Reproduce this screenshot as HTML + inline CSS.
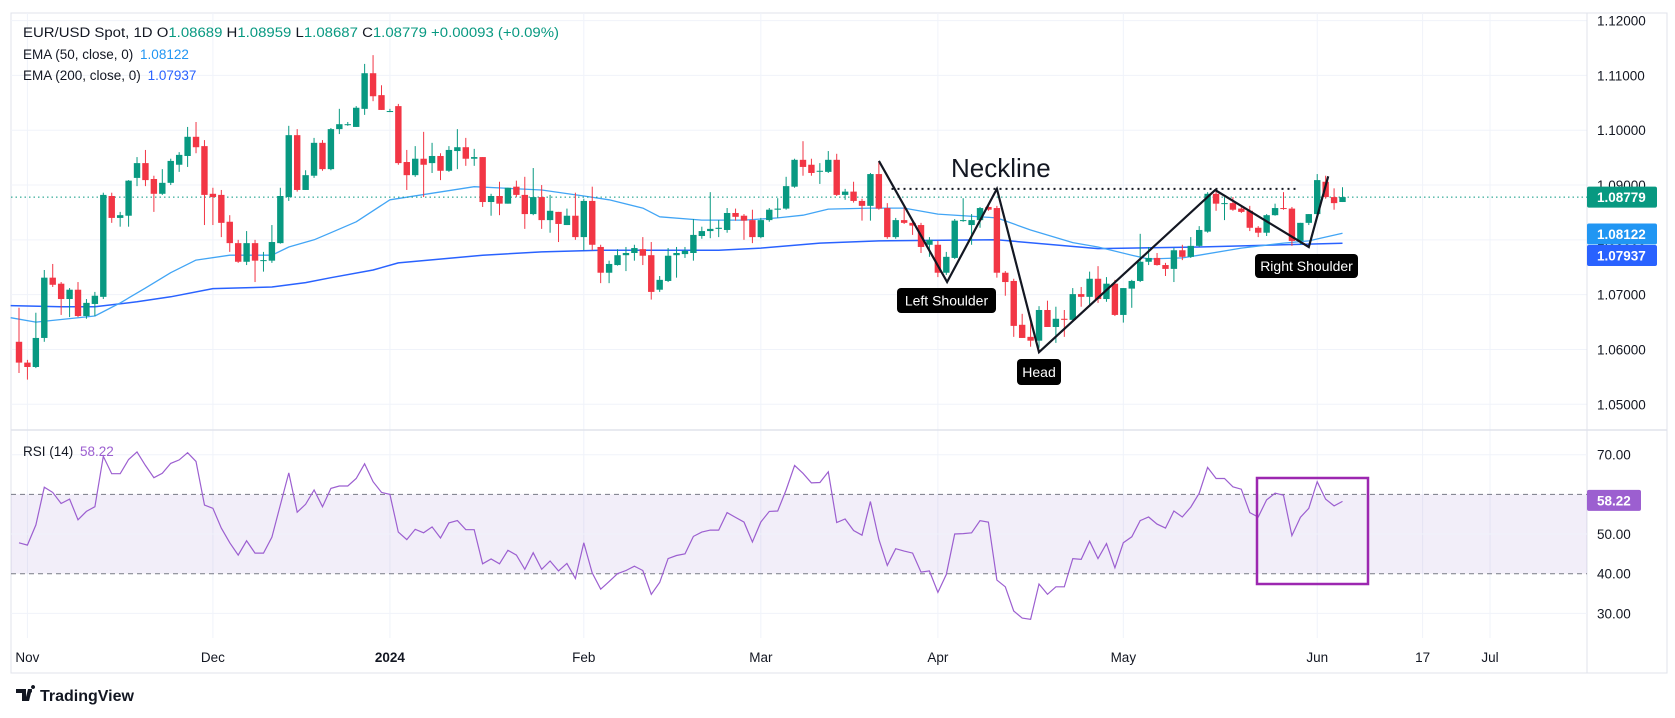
<!DOCTYPE html>
<html><head><meta charset="utf-8"><title>EUR/USD</title>
<style>
html,body{margin:0;padding:0;background:#fff;}
svg{display:block;font-family:"Liberation Sans",sans-serif;}
</style></head>
<body>
<svg id="chart" width="1675" height="718" viewBox="0 0 1675 718" xmlns="http://www.w3.org/2000/svg">
<rect x="0" y="0" width="1675" height="718" fill="#ffffff"/>
<g id="grid"></g>
<g id="rsiPanel"></g>
<g id="emas"></g>
<g id="candles"></g>
<g id="annot"></g>
<g id="axes"></g>
<g font-size="13.5">
  <text x="23" y="37" fill="#131722" textLength="536" lengthAdjust="spacingAndGlyphs">EUR/USD Spot, 1D <tspan fill="#131722">O</tspan><tspan fill="#089981">1.08689</tspan> <tspan fill="#131722">H</tspan><tspan fill="#089981">1.08959</tspan> <tspan fill="#131722">L</tspan><tspan fill="#089981">1.08687</tspan> <tspan fill="#131722">C</tspan><tspan fill="#089981">1.08779 +0.00093 (+0.09%)</tspan></text>
  <text x="23" y="59" fill="#131722">EMA (50, close, 0) <tspan fill="#2196f3" dx="3">1.08122</tspan></text>
  <text x="23" y="80" fill="#131722">EMA (200, close, 0) <tspan fill="#2962ff" dx="3">1.07937</tspan></text>
  <text x="23" y="456" fill="#131722">RSI (14) <tspan fill="#9c5fd0" dx="3">58.22</tspan></text>
</g>
<g>
  <path d="M16 689 h10 v12 h-4 v-8 h-6 z M28 689 h4 l-3 12 h-4 z M33 689 a2 2 0 1 1 0.1 0 z" fill="#131722"/>
  <circle cx="30" cy="691" r="2" fill="#131722"/>
  <text x="40" y="701" font-size="16" font-weight="bold" fill="#131722">TradingView</text>
</g>
</svg>
<script>
const opens=[1.0614,1.0576,1.0568,1.0621,1.0731,1.0720,1.0692,1.0709,1.0661,1.0683,
1.0696,1.0880,1.0840,1.0844,1.0913,1.0940,1.0911,1.0884,1.0904,1.0937,
1.0953,1.0988,1.0971,1.0884,1.0882,1.0833,1.0794,1.0760,1.0794,1.0762,
1.0762,1.0794,1.0878,1.0991,1.0891,1.0917,1.0977,1.0929,1.1002,1.1011,
1.1006,1.1039,1.1104,1.1064,1.1035,1.1044,1.0942,1.0918,1.0948,1.0940,
1.0953,1.0926,1.0962,1.0969,1.0948,1.0951,1.0869,1.0880,1.0866,1.0897,
1.0882,1.0847,1.0878,1.0836,1.0851,1.0827,1.0844,1.0805,1.0871,1.0787,
1.0740,1.0754,1.0772,1.0776,1.0783,1.0772,1.0709,1.0725,1.0772,1.0774,
1.0776,1.0807,1.0816,1.0820,1.0818,1.0849,1.0844,1.0836,1.0805,1.0836,
1.0855,1.0857,1.0897,1.0946,1.0937,1.0926,1.0924,1.0946,1.0882,1.0888,
1.0871,1.0862,1.0920,1.0858,1.0805,1.0836,1.0831,1.0827,1.0791,1.0791,
1.0740,1.0767,1.0835,1.0827,1.0836,1.0860,1.0858,1.0740,1.0725,1.0645,
1.0623,1.0616,1.0672,1.0641,1.0656,1.0654,1.0701,1.0696,1.0729,1.0692,
1.0720,1.0663,1.0711,1.0725,1.0760,1.0767,1.0754,1.0747,1.0781,1.0769,
1.0789,1.0815,1.0884,1.0866,1.0867,1.0857,1.0853,1.0822,1.0813,1.0845,
1.0858,1.0857,1.0798,1.0831,1.0847,1.0906,1.0878,1.0869];
const highs=[1.0676,1.0581,1.0667,1.0745,1.0756,1.0723,1.0712,1.0723,1.0692,1.0705,
1.0886,1.0886,1.0851,1.0909,1.0951,1.0964,1.0917,1.0929,1.0948,1.0960,
1.1006,1.1015,1.0982,1.0895,1.0891,1.0845,1.0800,1.0816,1.0800,1.0778,
1.0827,1.0895,1.1008,1.1002,1.0927,1.0986,1.0982,1.1004,1.1039,1.1015,
1.1044,1.1121,1.1137,1.1082,1.1039,1.1048,1.0964,1.0971,1.0997,1.0977,
1.0958,1.0971,1.1002,1.0986,1.0966,1.0951,1.0884,1.0906,1.0895,1.0908,
1.0915,1.0931,1.0900,1.0882,1.0851,1.0857,1.0886,1.0875,1.0897,1.0791,
1.0762,1.0783,1.0787,1.0791,1.0805,1.0796,1.0734,1.0785,1.0787,1.0787,
1.0838,1.0824,1.0887,1.0836,1.0858,1.0857,1.0847,1.0855,1.0840,1.0858,
1.0876,1.0915,1.0948,1.0980,1.0948,1.0940,1.0962,1.0957,1.0893,1.0906,
1.0875,1.0922,1.0942,1.0867,1.0840,1.0862,1.0835,1.0831,1.0805,1.0798,
1.0778,1.0838,1.0876,1.0847,1.0860,1.0864,1.0862,1.0743,1.0729,1.0665,
1.0650,1.0679,1.0689,1.0678,1.0672,1.0712,1.0714,1.0742,1.0752,1.0732,
1.0727,1.0712,1.0727,1.0811,1.0787,1.0776,1.0758,1.0785,1.0791,1.0805,
1.0825,1.0887,1.0891,1.0878,1.0878,1.0860,1.0862,1.0825,1.0847,1.0866,
1.0887,1.0860,1.0831,1.0847,1.0920,1.0917,1.0894,1.0896];
const lows=[1.0557,1.0545,1.0566,1.0614,1.0714,1.0663,1.0659,1.0659,1.0656,1.0661,
1.0692,1.0831,1.0824,1.0824,1.0898,1.0898,1.0851,1.0882,1.0900,1.0924,
1.0933,1.0958,1.0827,1.0827,1.0805,1.0778,1.0758,1.0754,1.0723,1.0742,
1.0758,1.0793,1.0871,1.0888,1.0891,1.0913,1.0926,1.0927,1.0993,1.1008,
1.1006,1.1028,1.1053,1.1037,1.1033,1.0937,1.0891,1.0915,1.0878,1.0922,
1.0909,1.0924,1.0929,1.0935,1.0935,1.0860,1.0844,1.0845,1.0866,1.0878,
1.0820,1.0845,1.0820,1.0813,1.0796,1.0827,1.0800,1.0781,1.0781,1.0721,
1.0721,1.0753,1.0743,1.0762,1.0754,1.0691,1.0705,1.0723,1.0731,1.0767,
1.0762,1.0802,1.0803,1.0805,1.0813,1.0835,1.0800,1.0794,1.0803,1.0833,
1.0840,1.0855,1.0895,1.0917,1.0917,1.0902,1.0922,1.0880,1.0873,1.0868,
1.0835,1.0835,1.0855,1.0802,1.0802,1.0829,1.0809,1.0776,1.0769,1.0732,
1.0736,1.0765,1.0833,1.0791,1.0822,1.0853,1.0731,1.0698,1.0623,1.0621,
1.0605,1.0603,1.0641,1.0612,1.0623,1.0652,1.0678,1.0678,1.0685,1.0687,
1.0661,1.0649,1.0676,1.0723,1.0754,1.0753,1.0734,1.0723,1.0763,1.0767,
1.0787,1.0813,1.0853,1.0836,1.0853,1.0849,1.0816,1.0805,1.0807,1.0844,
1.0855,1.0789,1.0791,1.0827,1.0844,1.0875,1.0855,1.0869];
const closes=[1.0576,1.0568,1.0621,1.0731,1.0718,1.0692,1.0709,1.0661,1.0685,1.0698,
1.0882,1.0840,1.0845,1.0908,1.0940,1.0909,1.0884,1.0904,1.0944,1.0955,
1.0988,1.0969,1.0882,1.0878,1.0831,1.0794,1.0760,1.0794,1.0762,1.0763,
1.0796,1.0880,1.0991,1.0891,1.0918,1.0977,1.0929,1.1002,1.1011,1.1011,
1.1041,1.1104,1.1062,1.1037,1.1035,1.0940,1.0918,1.0948,1.0937,1.0953,
1.0926,1.0964,1.0969,1.0948,1.0951,1.0869,1.0880,1.0866,1.0895,1.0882,
1.0847,1.0878,1.0836,1.0853,1.0829,1.0844,1.0805,1.0871,1.0791,1.0740,
1.0756,1.0772,1.0776,1.0785,1.0771,1.0705,1.0727,1.0771,1.0776,1.0780,
1.0809,1.0816,1.0820,1.0822,1.0849,1.0842,1.0835,1.0805,1.0836,1.0855,
1.0857,1.0898,1.0946,1.0933,1.0922,1.0926,1.0946,1.0882,1.0888,1.0871,
1.0862,1.0920,1.0857,1.0805,1.0836,1.0831,1.0826,1.0787,1.0800,1.0740,
1.0769,1.0835,1.0836,1.0836,1.0858,1.0855,1.0740,1.0723,1.0643,1.0621,
1.0616,1.0672,1.0641,1.0656,1.0654,1.0701,1.0696,1.0729,1.0692,1.0720,
1.0663,1.0712,1.0725,1.0760,1.0767,1.0754,1.0747,1.0781,1.0769,1.0789,
1.0818,1.0884,1.0866,1.0867,1.0855,1.0851,1.0822,1.0813,1.0845,1.0858,
1.0857,1.0798,1.0831,1.0847,1.0909,1.0878,1.0867,1.0878];
const rsiValues=[47.8,47.2,52.3,61.8,60.5,57.7,58.8,53.6,55.7,56.9,
69.6,65.2,65.2,68.8,70.7,67.3,64.2,65.3,67.8,68.7,
70.5,68.3,57.3,56.5,51.5,47.8,44.7,48.3,45.2,45.2,
49.2,57.3,65.4,55.5,57.5,61.1,56.9,61.5,62.1,62.1,
64,67.7,63.2,60.5,60,50.5,48.6,51.2,50.3,51.8,
49,52.8,53.4,51.1,51.1,42.5,43.7,42.5,45.9,44.7,
41.1,45.3,41.1,43.2,40.7,42.6,38.8,47.8,40.2,36.1,
38,40,40.8,41.9,40.8,34.8,37.8,43.8,44.6,45,
49.4,50.5,51,51,55.4,54.2,53,48,53,55.7,
55.8,61.1,67.3,65.3,62.9,63,65.7,52.9,53.8,50.9,
49.7,58.2,48.6,42.1,46.3,45.7,45.2,40.4,40.7,35.3,
39.8,50,50.1,50.3,53.4,53,38.4,36.7,30.6,28.8,
28.5,37.4,34.8,36.7,36.7,43.8,43.6,48.2,43.8,47.6,
41.5,47.8,49.3,53.4,54.3,52.5,51.5,55.8,54.3,56.8,
60.3,66.8,64,64,61.9,61.3,55.4,54.3,58.6,60.3,
59.8,49.6,54.2,56.5,63.2,58.8,57.1,58.22];
const ema50Idx=[0,3,10,13,16,19,22,26,31,33,36,38,41,45,55,63,68,71,75,77,82,87,91,94,97,102,106,110,117,121,126,129,133,135,139,141,146,151,154,158];
const ema50Vals=[1.0658,1.0650,1.0661,1.0685,1.0712,1.0740,1.0763,1.0772,1.0772,1.0787,1.0800,1.0813,1.0833,1.0873,1.0897,1.0891,1.0880,1.0873,1.0858,1.0842,1.0836,1.0836,1.0840,1.0845,1.0856,1.0858,1.0858,1.0847,1.0840,1.0818,1.0795,1.0787,1.0772,1.0765,1.0767,1.0772,1.0785,1.0794,1.0798,1.08122];
const ema200Idx=[0,6,10,15,19,24,31,35,38,43,46,56,63,70,84,89,96,103,117,129,141,151,158];
const ema200Vals=[1.0680,1.0678,1.0678,1.0687,1.0696,1.0711,1.0714,1.0722,1.0731,1.0745,1.0758,1.0772,1.0778,1.0781,1.0781,1.0785,1.0794,1.0798,1.0800,1.0784,1.0787,1.0791,1.07937];
const priceTicks=[1.12,1.11,1.10,1.09,1.08,1.07,1.06,1.05];
const rsiTicks=[70,60,50,40,30];
const timeLabels=["Nov","Dec","2024","Feb","Mar","Apr","May","Jun","17","Jul"];
const timeLabelIdx=[2,24,45,68,89,110,132,155,167.5,175.5];
const neckIdx=[104.5,152.5];
const neckPrice=[1.0893,1.0893];
const zigIdx=[103,111.1,117,122,142.9,154,156.3];
const zigPrice=[1.0944,1.0723,1.0893,1.0595,1.0891,1.0787,1.0916];

const NS="http://www.w3.org/2000/svg";
function xOf(i){return 19+(i-1)*8.43;}
function yP(p){return 20.6+(1.12-p)*5481;}
function yR(r){return 454.7+(70-r)*3.967;}
function mk(tag,attrs,parent){const e=document.createElementNS(NS,tag);for(const k in attrs)e.setAttribute(k,attrs[k]);parent.appendChild(e);return e;}
const grid=document.getElementById('grid'),axes=document.getElementById('axes'),rsiG=document.getElementById('rsiPanel'),candG=document.getElementById('candles'),emaG=document.getElementById('emas'),ann=document.getElementById('annot');
const PL=11,PR=1587,PT=13,PB=638;
let fr=mk('rect',{x:PL,y:PT,width:1667-PL,height:673-PT,fill:'none',stroke:'#e0e3eb','stroke-width':1},grid);


timeLabelIdx.forEach(function(ix,k){
  const x=xOf(ix);
  const l=mk('line',{x1:x,x2:x,y1:PT,y2:PB,stroke:'#f0f3fa','stroke-width':1},grid);
  
  
  const t=mk('text',{x:x,y:662,'font-size':13.5,fill:'#131722','text-anchor':'middle','font-weight':timeLabels[k]==='2024'?'bold':'normal'},axes);
  t.textContent=timeLabels[k];
  
  
});
priceTicks.forEach(function(p){
  const y=yP(p);
  const l=mk('line',{x1:PL,x2:PR,y1:y,y2:y,stroke:'#f0f3fa','stroke-width':1},grid);
  
  
  const t=mk('text',{x:1597,y:y+5,'font-size':13.5,fill:'#131722'},axes);
  t.textContent=p.toFixed(5);
  
  
});
let sep=mk('line',{x1:PR,x2:PR,y1:PT,y2:673,stroke:'#e0e3eb','stroke-width':1},grid);


let psep=mk('line',{x1:PL,x2:1667,y1:430,y2:430,stroke:'#e0e3eb','stroke-width':1.5},grid);


let band=mk('rect',{x:PL,y:yR(60),width:PR-PL,height:yR(40)-yR(60),fill:'rgba(126,87,194,0.1)'},rsiG);


rsiTicks.forEach(function(r){
  const y=yR(r);
  const dashed=(r===60||r===40);
  const l=mk('line',{x1:PL,x2:PR,y1:y,y2:y,stroke:dashed?'#787b86':'#f0f3fa','stroke-width':1,'stroke-dasharray':dashed?'5,4':'none'},rsiG);
  
  
  const t=mk('text',{x:1597,y:y+5,'font-size':13.5,fill:'#131722'},axes);
  t.textContent=r.toFixed(2);
  
  
});
let rp='';
rsiValues.forEach(function(v,i){rp+=(i?'L':'M')+xOf(i+1).toFixed(1)+' '+yR(v).toFixed(1);});
let rl=mk('path',{d:rp,fill:'none',stroke:'#9c5fd0','stroke-width':1.2},rsiG);


let rbox=mk('rect',{x:1257,y:478,width:111,height:106,fill:'none',stroke:'#9c27b0','stroke-width':2.5},rsiG);


function linePath(ix,vals){let d='';ix.forEach(function(i,k){d+=(k?'L':'M')+xOf(i).toFixed(1)+' '+yP(vals[k]).toFixed(1);});return d;}
let e200=mk('path',{d:linePath(ema200Idx,ema200Vals),fill:'none',stroke:'#2962ff','stroke-width':1.5,'stroke-linejoin':'round'},emaG);


let e50=mk('path',{d:linePath(ema50Idx,ema50Vals),fill:'none',stroke:'#42a5f5','stroke-width':1.3,'stroke-linejoin':'round'},emaG);


const lastC=closes[closes.length-1];
let cpl=mk('line',{x1:PL,x2:PR,y1:yP(lastC),y2:yP(lastC),stroke:'#089981','stroke-width':1,'stroke-dasharray':'1.5,3'},emaG);


closes.forEach(function(c,k){
  const o=opens[k],h=highs[k],l=lows[k],x=xOf(k+1);
  const up=c>=o,col=up?'#089981':'#f23645';
  const g=mk('g',{},candG);
  
  
  mk('line',{x1:x,x2:x,y1:yP(h),y2:yP(l),stroke:col,'stroke-width':1},g);
  const top=yP(Math.max(o,c)),bot=yP(Math.min(o,c));
  mk('rect',{x:x-3.2,y:top,width:6.4,height:Math.max(1,bot-top),fill:col},g);
});
function badge(y,txt,bg,name,w){
  const g=mk('g',{},axes);
  
  
  mk('rect',{x:1587,y:y-10.5,width:w,height:21,rx:2,fill:bg},g);
  const t=mk('text',{x:1597,y:y+5,'font-size':13.5,fill:'#fff','font-weight':'bold'},g);
  t.textContent=txt;
}
badge(234,'1.08122','#2196f3','ema50-price-badge',70);
badge(255.5,'1.07937','#2962ff','ema200-price-badge',70);
badge(yP(lastC),'1.08779','#089981','last-price-badge',70);
badge(yR(58.22)-1,'58.22','#9c5fd0','rsi-value-badge',54);
let nl=mk('line',{x1:xOf(neckIdx[0]),x2:xOf(neckIdx[1]),y1:yP(neckPrice[0]),y2:yP(neckPrice[1]),stroke:'#131722','stroke-width':2,'stroke-dasharray':'2,4'},ann);


let nt=mk('text',{x:951,y:177,'font-size':26,fill:'#131722'},ann);
nt.textContent='Neckline';


let zp='';
zigIdx.forEach(function(i,k){zp+=(k?'L':'M')+xOf(i).toFixed(1)+' '+yP(zigPrice[k]).toFixed(1);});
let zz=mk('path',{d:zp,fill:'none',stroke:'#131722','stroke-width':2.2,'stroke-linejoin':'miter'},ann);


function label(x,y,w,h,txt,name){
  const g=mk('g',{},ann);
  
  
  mk('rect',{x:x,y:y,width:w,height:h,rx:4,fill:'#000'},g);
  const t=mk('text',{x:x+w/2,y:y+h/2+5,'font-size':14,fill:'#fff','text-anchor':'middle'},g);
  t.textContent=txt;
}
label(897,288,99,25,'Left Shoulder','left-shoulder-label');
label(1017,359,44,26,'Head','head-label');
label(1255,254,103,24,'Right Shoulder','right-shoulder-label');
</script>
</body></html>
